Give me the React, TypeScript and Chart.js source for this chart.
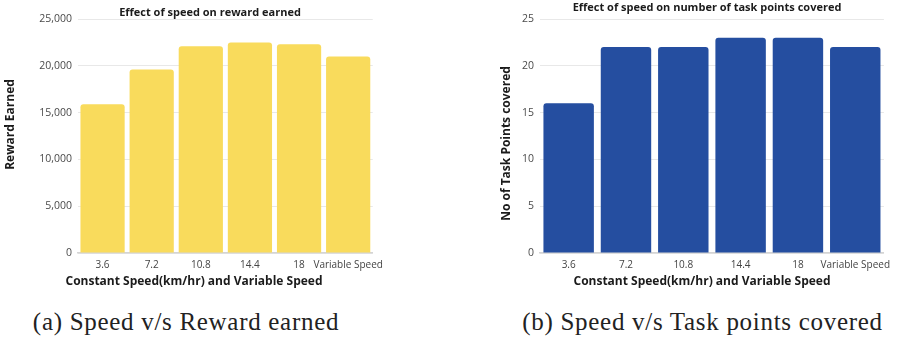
import React, { useEffect, useRef } from "react";
import { Chart, registerables } from "chart.js";

Chart.register(...registerables);

// ---- data ----
const categories = ["3.6", "7.2", "10.8", "14.4", "18", "Variable Speed"];
const rewardValues = [15900, 19600, 22100, 22500, 22300, 21000];
const taskPointValues = [16, 22, 22, 23, 23, 22];
const rewardAxisMax = 25000;
const rewardAxisStep = 5000;
const taskAxisMax = 25;
const taskAxisStep = 5;

const leftTitle = "Effect of speed on reward earned";
const rightTitle = "Effect of speed on number of task points covered";
const xAxisTitle = "Constant Speed(km/hr) and Variable Speed";
const leftYTitle = "Reward Earned";
const rightYTitle = "No of Task Points covered";
const captionA = "(a) Speed v/s Reward earned";
const captionB = "(b) Speed v/s Task points covered";

const SANS = "'Open Sans', 'DejaVu Sans', sans-serif";

type TextItem = { text: string; x: number; y: number; font: string; color: string; rotate?: number };

const freeTextPlugin = {
  id: "freeText",
  afterDraw(chart: any, _args: any, opts: any) {
    const ctx = chart.ctx as CanvasRenderingContext2D;
    const items: TextItem[] = (opts && opts.items) || [];
    for (const t of items) {
      ctx.save();
      ctx.font = t.font;
      ctx.fillStyle = t.color;
      ctx.textAlign = "center";
      ctx.textBaseline = "middle";
      ctx.translate(t.x, t.y);
      if (t.rotate) ctx.rotate(t.rotate);
      ctx.fillText(t.text, 0, 0);
      ctx.restore();
    }
  },
};

type BarProps = {
  left: number;
  width: number;
  height: number;
  values: number[];
  color: string;
  max: number;
  step: number;
  yWidth: number;
  rightPad: number;
  barPct: number;
  texts: TextItem[];
};

function BarChart(p: BarProps) {
  const ref = useRef<HTMLCanvasElement | null>(null);
  useEffect(() => {
    if (!ref.current) return;
    const chart = new Chart(ref.current, {
      type: "bar",
      data: {
        labels: categories,
        datasets: [
          {
            data: p.values,
            backgroundColor: p.color,
            borderRadius: { topLeft: 3, topRight: 3, bottomLeft: 0, bottomRight: 0 },
            borderSkipped: false,
            barPercentage: p.barPct,
            categoryPercentage: 1,
          },
        ],
      },
      options: {
        responsive: false,
        animation: false,
        maintainAspectRatio: false,
        layout: { padding: { left: 0, right: p.rightPad, top: 19, bottom: 0 } },
        plugins: {
          legend: { display: false },
          tooltip: { enabled: false },
          title: { display: false },
          freeText: { items: p.texts },
        } as any,
        scales: {
          x: {
            grid: { display: false, drawTicks: false },
            border: { display: true, color: "#d4d4d4", width: 1.5 },
            ticks: {
              font: { family: SANS, size: 10 },
              color: "#444",
              padding: 6,
              maxRotation: 0,
              autoSkip: false,
            },
            afterFit(s: any) {
              s.height = p.height - 19 - 234;
            },
          },
          y: {
            min: 0,
            max: p.max,
            ticks: {
              stepSize: p.step,
              font: { family: SANS, size: 10.5 },
              color: "#4a4a4a",
              padding: 6,
            },
            grid: { color: "#e8e8e8", drawTicks: false, lineWidth: 1 },
            border: { display: false },
            afterFit(s: any) {
              s.width = p.yWidth;
            },
          },
        },
      },
      plugins: [freeTextPlugin as any],
    });
    return () => chart.destroy();
  }, []);
  return (
    <canvas
      ref={ref}
      width={p.width}
      height={p.height}
      style={{ position: "absolute", left: p.left, top: 0, width: p.width, height: p.height }}
    />
  );
}

export default function App() {
  const titleFont = `bold 11px ${SANS}`;
  const axisFont = `bold 12px ${SANS}`;
  const dark = "#1b1b1b";
  const captionStyle: React.CSSProperties = {
    position: "absolute",
    top: 307,
    width: 500,
    textAlign: "center",
    fontFamily: "'Liberation Serif', 'Times New Roman', serif",
    fontSize: 25,
    letterSpacing: "0.7px",
    lineHeight: "30px",
    color: "#222",
    whiteSpace: "nowrap",
  };
  return (
    <div style={{ position: "fixed", left: 0, top: 0, width: 897, height: 337, background: "#fff", overflow: "hidden" }}>
      <BarChart
        left={0}
        width={390}
        height={295}
        values={rewardValues}
        color="#F9DB5C"
        max={rewardAxisMax}
        step={rewardAxisStep}
        yWidth={78}
        rightPad={13}
        barPct={0.9}
        texts={[
          { text: leftTitle, x: 210, y: 13, font: titleFont, color: dark },
          { text: leftYTitle, x: 11, y: 124.5, font: axisFont, color: dark, rotate: -Math.PI / 2 },
          { text: xAxisTitle, x: 194, y: 282, font: axisFont, color: dark },
        ]}
      />
      <BarChart
        left={440}
        width={457}
        height={295}
        values={taskPointValues}
        color="#254EA0"
        max={taskAxisMax}
        step={taskAxisStep}
        yWidth={100}
        rightPad={12}
        barPct={0.88}
        texts={[
          { text: rightTitle, x: 267, y: 7.5, font: titleFont, color: dark },
          { text: rightYTitle, x: 66.5, y: 143.5, font: axisFont, color: dark, rotate: -Math.PI / 2 },
          { text: xAxisTitle, x: 262, y: 282, font: axisFont, color: dark },
        ]}
      />
      <div style={{ ...captionStyle, left: 186 - 250 }}>{captionA}</div>
      <div style={{ ...captionStyle, left: 702.5 - 250 }}>{captionB}</div>
    </div>
  );
}
